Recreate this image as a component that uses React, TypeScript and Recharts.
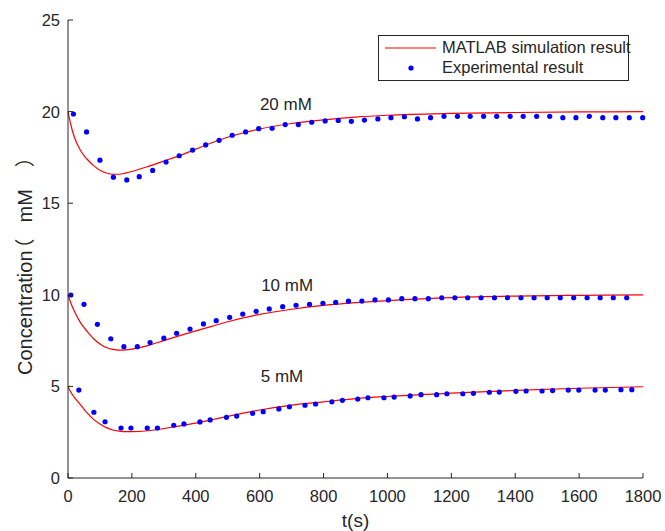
import { ComposedChart, Line, Scatter, XAxis, YAxis, Legend, ReferenceDot } from "recharts";

// MATLAB simulation result (sampled off the red curves)
const simTime = [0, 10, 20, 40, 60, 80, 100, 120, 140, 160, 180, 200, 250, 300, 350, 400, 450, 500, 600, 700, 800, 900, 1000, 1200, 1400, 1600, 1800];
const sim20 = [20.0, 19.2, 18.6, 17.85, 17.4, 17.05, 16.8, 16.65, 16.58, 16.58, 16.64, 16.73, 17.0, 17.3, 17.6, 17.95, 18.3, 18.6, 19.05, 19.35, 19.55, 19.7, 19.8, 19.9, 19.95, 19.98, 20.0];
const sim10 = [10.0, 9.5, 9.1, 8.45, 8.0, 7.6, 7.32, 7.12, 7.02, 6.98, 6.99, 7.03, 7.23, 7.5, 7.77, 8.03, 8.28, 8.53, 8.93, 9.21, 9.42, 9.57, 9.68, 9.85, 9.93, 9.97, 10.0];
const sim5 = [5.0, 4.65, 4.4, 3.98, 3.55, 3.2, 2.95, 2.75, 2.62, 2.56, 2.53, 2.53, 2.58, 2.7, 2.85, 3.0, 3.18, 3.36, 3.71, 3.98, 4.16, 4.33, 4.45, 4.63, 4.78, 4.9, 4.98];

// experimental points
const expTime20 = [17, 58, 100, 142, 184, 223, 265, 307, 348, 390, 431, 473, 514, 556, 597, 639, 680, 721, 763, 805, 846, 887, 928, 970, 1011, 1053, 1094, 1135, 1177, 1219, 1259, 1301, 1342, 1384, 1425, 1467, 1508, 1549, 1590, 1632, 1674, 1715, 1757, 1799];
const exp20 = [19.87, 18.89, 17.35, 16.42, 16.27, 16.45, 16.79, 17.25, 17.59, 17.9, 18.18, 18.43, 18.71, 18.89, 19.07, 19.09, 19.29, 19.29, 19.42, 19.49, 19.52, 19.47, 19.54, 19.6, 19.67, 19.72, 19.6, 19.67, 19.74, 19.74, 19.74, 19.74, 19.74, 19.74, 19.74, 19.74, 19.74, 19.67, 19.67, 19.74, 19.67, 19.67, 19.67, 19.67];
const expTime10 = [9, 50, 92, 134, 175, 217, 257, 300, 340, 382, 424, 464, 506, 547, 589, 630, 672, 714, 756, 798, 838, 878, 920, 961, 1003, 1045, 1086, 1128, 1170, 1211, 1251, 1293, 1335, 1376, 1418, 1459, 1500, 1541, 1583, 1625, 1666, 1707, 1749];
const exp10 = [9.99, 9.48, 8.39, 7.6, 7.17, 7.17, 7.39, 7.63, 7.9, 8.13, 8.41, 8.59, 8.77, 8.95, 9.1, 9.23, 9.35, 9.43, 9.48, 9.54, 9.59, 9.65, 9.66, 9.72, 9.72, 9.79, 9.79, 9.79, 9.84, 9.84, 9.84, 9.84, 9.84, 9.84, 9.84, 9.84, 9.84, 9.84, 9.84, 9.84, 9.84, 9.84, 9.84];
const expTime5 = [34, 81, 116, 166, 197, 248, 280, 331, 363, 413, 445, 496, 528, 578, 611, 660, 693, 742, 775, 826, 859, 907, 939, 989, 1021, 1071, 1105, 1154, 1186, 1236, 1269, 1319, 1350, 1402, 1434, 1484, 1517, 1566, 1599, 1650, 1682, 1731, 1765];
const exp5 = [4.8, 3.59, 3.07, 2.73, 2.73, 2.73, 2.73, 2.88, 2.95, 3.06, 3.17, 3.31, 3.38, 3.53, 3.62, 3.77, 3.89, 3.97, 4.04, 4.16, 4.24, 4.31, 4.38, 4.38, 4.42, 4.48, 4.55, 4.55, 4.6, 4.6, 4.62, 4.68, 4.69, 4.73, 4.75, 4.75, 4.77, 4.8, 4.8, 4.8, 4.8, 4.82, 4.82];

const xTicks = [0, 200, 400, 600, 800, 1000, 1200, 1400, 1600, 1800];
const yTicks = [0, 5, 10, 15, 20, 25];

const curveLabels = ["20 mM", "10 mM", "5 mM"];
const curveLabelT = [682, 686, 670];
const curveLabelV = [20.41, 10.53, 5.57];

const legendLabels = ["MATLAB simulation result", "Experimental result"];

const FONT = '"Liberation Sans", Arial, Helvetica, "Noto Sans CJK SC", sans-serif';
const AX = "#262626";

const toPts = (ts: number[], vs: number[]) => ts.map((t, i) => ({ t, v: vs[i] }));

const simSeries = [sim20, sim10, sim5].map((s) => toPts(simTime, s));
const expSeries = [toPts(expTime20, exp20), toPts(expTime10, exp10), toPts(expTime5, exp5)];

const BottomTick = (p: any) => (
  <g>
    <line x1={p.x} x2={p.x} y1={p.y} y2={p.y - 5} stroke={AX} />
    <text x={p.x} y={p.y + 24} textAnchor="middle" fontSize={16.5} fill={AX} fontFamily={FONT}>
      {p.payload.value}
    </text>
  </g>
);

const TopTick = (p: any) => <line x1={p.x} x2={p.x} y1={p.y} y2={p.y + 5} stroke={AX} />;

const LeftTick = (p: any) => (
  <g>
    <line x1={p.x} x2={p.x + 5} y1={p.y} y2={p.y} stroke={AX} />
    <text x={p.x - 8} y={p.y} dy="0.36em" textAnchor="end" fontSize={16.5} fill={AX} fontFamily={FONT}>
      {p.payload.value}
    </text>
  </g>
);

const RightTick = (p: any) => <line x1={p.x} x2={p.x - 5} y1={p.y} y2={p.y} stroke={AX} />;

const Dot = (p: any) => <circle cx={p.cx} cy={p.cy} r={2.6} fill="#0000ff" />;

// y-axis title: the full-width brackets are set wide, as in the MATLAB figure
const YTitle = (p: any) => {
  const vb = p.viewBox || { x: 0, y: 20, width: 68, height: 458 };
  const cx = 25;
  const sy = vb.y + vb.height - 103;
  return (
    <text
      x={cx}
      y={sy}
      transform={`rotate(-90, ${cx}, ${sy})`}
      textAnchor="start"
      dy="0.35em"
      fontSize={20}
      fill={AX}
      fontFamily={FONT}
    >
      <tspan>Concentration</tspan>
      <tspan dx={-8}>（</tspan>
      <tspan dx={16}>mM</tspan>
      <tspan dx={22}>）</tspan>
    </text>
  );
};

const LegendBox = () => (
  <div
    style={{
      width: 251,
      height: 46,
      boxSizing: "border-box",
      border: `1px solid ${AX}`,
      background: "#fff",
      position: "relative",
      fontFamily: FONT,
      fontSize: 16.5,
      color: AX,
    }}
  >
    <svg width={60} height={44} style={{ position: "absolute", left: 0, top: 0 }}>
      <line x1={6} x2={57} y1={12} y2={12} stroke="#ff0000" strokeWidth={1.2} />
      <circle cx={32} cy={32} r={2.6} fill="#0000ff" />
    </svg>
    <div style={{ position: "absolute", left: 63, top: 2, whiteSpace: "nowrap", lineHeight: "19px" }}>{legendLabels[0]}</div>
    <div style={{ position: "absolute", left: 63, top: 22, whiteSpace: "nowrap", lineHeight: "19px" }}>{legendLabels[1]}</div>
  </div>
);

export default function App() {
  return (
    <div style={{ position: "absolute", left: 0, top: 0, width: 665, height: 531, background: "#fff" }}>
      <ComposedChart width={665} height={531} margin={{ top: 20, right: 22, bottom: 0, left: 0 }}>
        <XAxis
          dataKey="t"
          type="number"
          domain={[0, 1800]}
          ticks={xTicks}
          interval={0}
          height={53}
          tickSize={0}
          tickMargin={0}
          tickLine={false}
          tick={BottomTick}
          axisLine={{ stroke: AX }}
          label={{ value: "t(s)", position: "insideBottom", offset: 4, fontSize: 19, fill: AX, fontFamily: FONT }}
        />
        <XAxis
          xAxisId="top"
          orientation="top"
          type="number"
          domain={[0, 1800]}
          ticks={xTicks}
          interval={0}
          height={0}
          tickSize={0}
          tickLine={false}
          tick={TopTick}
          axisLine={{ stroke: AX }}
        />
        <YAxis
          dataKey="v"
          type="number"
          domain={[0, 25]}
          ticks={yTicks}
          interval={0}
          width={68}
          tickSize={0}
          tickMargin={0}
          tickLine={false}
          tick={LeftTick}
          axisLine={{ stroke: AX }}
          label={{ content: YTitle }}
        />
        <YAxis
          yAxisId="right"
          orientation="right"
          type="number"
          domain={[0, 25]}
          ticks={yTicks}
          interval={0}
          width={0}
          tickSize={0}
          tickLine={false}
          tick={RightTick}
          axisLine={{ stroke: AX }}
        />
        {simSeries.map((d, i) => (
          <Line
            key={"sim" + i}
            data={d}
            dataKey="v"
            type="monotone"
            stroke="#ff0000"
            strokeWidth={1.2}
            dot={false}
            activeDot={false}
            isAnimationActive={false}
          />
        ))}
        {expSeries.map((d, i) => (
          <Scatter key={"exp" + i} data={d} dataKey="v" shape={Dot} isAnimationActive={false} />
        ))}
        {curveLabels.map((txt, i) => (
          <ReferenceDot
            key={txt}
            x={curveLabelT[i]}
            y={curveLabelV[i]}
            r={0}
            fill="none"
            stroke="none"
            label={{ value: txt, position: "center", fontSize: 17, fill: AX, fontFamily: FONT }}
          />
        ))}
        <Legend
          layout="horizontal"
          align="center"
          verticalAlign="middle"
          content={LegendBox}
          wrapperStyle={{ left: 378, top: 35, width: 251, height: 46 }}
        />
      </ComposedChart>
    </div>
  );
}
